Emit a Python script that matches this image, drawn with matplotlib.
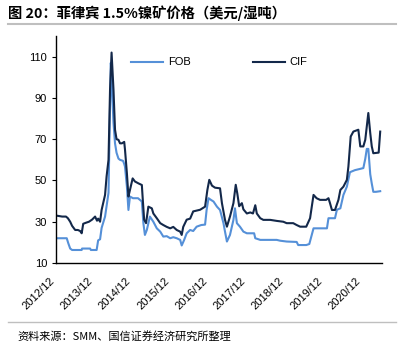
import matplotlib
matplotlib.use('Agg')
import matplotlib.pyplot as plt
from matplotlib.lines import Line2D

plt.rcParams['font.family'] = ['Liberation Sans', 'Noto Sans CJK SC', 'DejaVu Sans']

# years after 2012/12 and price (USD / wet tonne)
cif_t = [0.00, 0.16, 0.26, 0.31, 0.37, 0.42, 0.50, 0.57, 0.63, 0.67, 0.71, 0.78,
         0.86, 0.94, 1.02, 1.07, 1.10, 1.15, 1.19, 1.28, 1.32, 1.37, 1.41, 1.45,
         1.50, 1.54, 1.58, 1.63, 1.67, 1.72, 1.78, 1.80, 1.85, 1.89, 1.93, 2.00,
         2.06, 2.15, 2.24, 2.26, 2.30, 2.35, 2.41, 2.50, 2.54, 2.63, 2.72, 2.80,
         2.89, 2.98, 3.06, 3.15, 3.24, 3.28, 3.32, 3.41, 3.50, 3.58, 3.76, 3.89,
         3.95, 4.00, 4.07, 4.15, 4.28, 4.33, 4.41, 4.46, 4.54, 4.63, 4.69, 4.73,
         4.78, 4.85, 4.89, 4.98, 5.07, 5.14, 5.20, 5.24, 5.33, 5.41, 5.59, 5.76,
         5.93, 6.02, 6.19, 6.28, 6.37, 6.53, 6.63, 6.72, 6.80, 6.89, 7.05, 7.11,
         7.15, 7.20, 7.28, 7.37, 7.42, 7.50, 7.59, 7.63, 7.69, 7.76, 7.89, 7.94,
         8.02, 8.07, 8.11, 8.15, 8.20, 8.24, 8.28, 8.42, 8.46]
cif_v = [33, 32.5, 32.5, 31.7, 30, 28, 26, 26, 25.5, 24.4, 29, 29.5,
         30, 31, 32.5, 30.5, 31.5, 30, 35.7, 43, 52, 60, 94, 112,
         94, 74.6, 70, 69.7, 68, 68, 68.7, 65, 53.5, 42.2, 45.4, 51,
         49.5, 48.6, 47.8, 42, 31, 29.3, 37.3, 36.5, 34, 31.7, 29.3, 28.4,
         27.5, 26.8, 27.5, 26, 25.2, 23.6, 27.5, 31, 31.5, 35, 35.8, 37.3,
         45.4, 50.3, 47.5, 46.5, 46.2, 39, 30.9, 27.6, 32.5, 39, 47.9, 43.8,
         37.5, 39, 36, 34, 34.5, 34, 38, 34, 31.7, 30.9, 30.9, 30.4,
         30, 29.3, 29.3, 28.4, 27.6, 27.6, 31.7, 43, 41.4, 40.6, 40.6, 41.4,
         39, 35.7, 35.7, 40.6, 45.4, 47, 50.3, 56.7, 71.3, 73.7, 74.6, 66.5,
         66.5, 69.7, 76.2, 82.7, 73, 66.5, 63.2, 63.5, 73.7]

fob_t = [0.00, 0.28, 0.32, 0.37, 0.42, 0.67, 0.68, 0.89, 0.91, 1.06, 1.10, 1.15,
         1.19, 1.28, 1.37, 1.41, 1.43, 1.46, 1.50, 1.54, 1.58, 1.63, 1.67, 1.75,
         1.78, 1.80, 1.85, 1.89, 1.93, 2.01, 2.14, 2.24, 2.28, 2.32, 2.37, 2.45,
         2.54, 2.63, 2.72, 2.80, 2.89, 2.98, 3.06, 3.15, 3.24, 3.28, 3.34, 3.41,
         3.50, 3.58, 3.67, 3.79, 3.89, 3.93, 3.98, 4.05, 4.11, 4.20, 4.28, 4.37,
         4.41, 4.46, 4.54, 4.63, 4.67, 4.72, 4.80, 4.89, 4.98, 5.17, 5.20, 5.33,
         5.59, 5.76, 5.85, 6.02, 6.28, 6.32, 6.53, 6.61, 6.72, 7.07, 7.11, 7.28,
         7.33, 7.42, 7.50, 7.59, 7.67, 7.80, 8.02, 8.07, 8.11, 8.15, 8.20, 8.24,
         8.28, 8.35, 8.46]
fob_v = [22, 22, 19.6, 17, 16.3, 16.3, 17, 17, 16.3, 16.3, 21, 21.5,
         27, 32.5, 44, 86, 107, 95, 78, 68, 63.4, 60.6, 60, 59.5,
         58, 56.7, 47, 35.7, 42.2, 41.4, 41.4, 39.8, 29.3, 23.6, 26, 32.5,
         30, 26.8, 25.2, 22.8, 23, 22, 22.5, 22, 21.2, 18.5, 21, 24.4,
         26, 25.5, 27.6, 28.4, 28.6, 35.7, 41.4, 40.5, 39.8, 37.3, 35.7, 29.3,
         25.2, 20.4, 23.6, 30.9, 36.5, 29.3, 27.6, 25.2, 24.4, 24.4, 22, 21.2,
         21.2, 21.2, 20.8, 20.4, 20.2, 18.7, 18.7, 19.2, 26.8, 26.8, 31.7, 31.7,
         35.8, 36.5, 43, 47, 54, 55, 56, 60.5, 65.3, 65.3, 53, 48.5,
         44.5, 44.5, 44.8]

tick_labels = ['2012/12', '2013/12', '2014/12', '2015/12', '2016/12',
               '2017/12', '2018/12', '2019/12', '2020/12']
y_ticks = [10, 30, 50, 70, 90, 110]

FOB_COLOR = '#5590d8'
CIF_COLOR = '#13284a'

fig = plt.figure(figsize=(4.1, 3.5), dpi=100)
ax = fig.add_axes([0.1366, 0.2486, 0.7954, 0.6484])

ax.plot(fob_t, fob_v, color=FOB_COLOR, linewidth=1.5, label='FOB')
ax.plot(cif_t, cif_v, color=CIF_COLOR, linewidth=1.5, label='CIF')

ax.set_xlim(0, 8.51)
ax.set_ylim(10, 120)
ax.set_yticks(y_ticks)
ax.set_xticks(range(len(tick_labels)))
ax.set_xticklabels(tick_labels, rotation=45, ha='right')
ax.tick_params(axis='both', labelsize=8, length=3, width=0.8)
ax.tick_params(axis='x', length=0, pad=9)
for s in ('top', 'right'):
    ax.spines[s].set_visible(False)
for s in ('left', 'bottom'):
    ax.spines[s].set_linewidth(1.0)

ax.legend(loc='upper center', bbox_to_anchor=(0.5, 0.95), ncol=2, frameon=False,
          fontsize=8, handlelength=2.9, columnspacing=5.6, handletextpad=0.4)

# title, rules and source
fig.text(0.02, 0.962, '图 20：菲律宾 1.5%镍矿价格（美元/湿吨）', fontsize=10.3,
         fontweight='bold', va='center', family=['Noto Sans CJK SC', 'DejaVu Sans'])
fig.add_artist(Line2D([0.02, 0.965], [0.931, 0.931], color='#bfbfbf', linewidth=1.5))
fig.add_artist(Line2D([0.02, 0.965], [0.081, 0.081], color='#bfbfbf', linewidth=1.0))
fig.text(0.042, 0.04, '资料来源：SMM、国信证券经济研究所整理', fontsize=8,
         va='center', family=['Noto Sans CJK SC', 'DejaVu Sans'])

fig.savefig('out.png', dpi=100)
